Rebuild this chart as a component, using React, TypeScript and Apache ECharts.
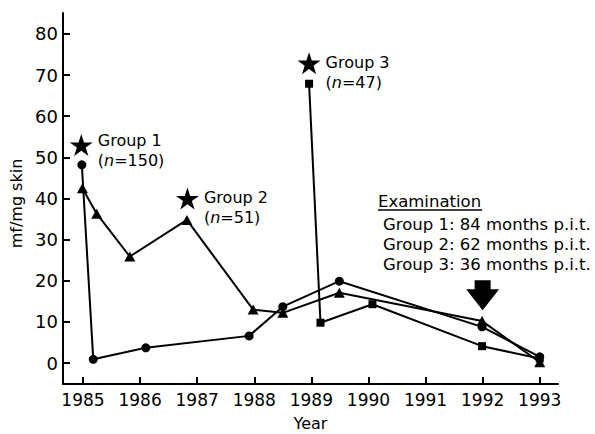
import React, { useEffect, useRef } from "react";
import * as echarts from "echarts";

const yearTicks = [1985, 1986, 1987, 1988, 1989, 1990, 1991, 1992, 1993];
const valueTicks = [0, 10, 20, 30, 40, 50, 60, 70, 80];

const g1Years = [1984.98, 1985.18, 1986.1, 1987.91, 1988.5, 1989.49, 1991.99, 1993.0];
const g1Values = [48.2, 0.9, 3.7, 6.6, 13.7, 19.9, 8.8, 1.5];

const g2Years = [1984.99, 1985.24, 1985.82, 1986.82, 1987.98, 1988.5, 1989.49, 1991.99, 1993.0];
const g2Values = [42.5, 36.3, 25.9, 34.8, 13.0, 12.2, 17.1, 10.2, 0.2];

const g3Years = [1988.96, 1989.16, 1990.07, 1991.99, 1993.0];
const g3Values = [67.9, 9.8, 14.3, 4.1, 1.1];

const starNames = ["Group 1", "Group 2", "Group 3"];
const starCounts = ["150", "51", "47"];
const starYears = [1984.97, 1986.83, 1988.96];
const starValues = [53, 40, 72.9];

const examTitle = "Examination";
const examLines = [
  "Group 1: 84 months p.i.t.",
  "Group 2: 62 months p.i.t.",
  "Group 3: 36 months p.i.t.",
];
const arrowYear = 1992;
const arrowValue = 16.5;

const FONT = "DejaVu Sans";
const STAR =
  "path://M50,0 L61.2,34.5 L97.6,34.5 L68.2,55.9 L79.4,90.5 L50,69.1 L20.6,90.5 L31.8,55.9 L2.4,34.5 L38.8,34.5 Z";
const ARROW = "path://M8.5,0 L24.5,0 L24.5,9 L33,9 L16.5,30 L0,9 L8.5,9 Z";

const zip = (xs: number[], ys: number[]) => xs.map((x, i) => [x, ys[i]]);

export default function App() {
  const ref = useRef<HTMLDivElement>(null);
  useEffect(() => {
    if (!ref.current) return;
    const chart = echarts.init(ref.current, null, { renderer: "svg" });
    const lineSeries = (data: number[][], symbol: string, size: number | number[]) => ({
      type: "line",
      data,
      symbol,
      symbolSize: size,
      lineStyle: { color: "#000", width: 2 },
      itemStyle: { color: "#000", opacity: 1 },
      z: 3,
    });
    chart.setOption({
      animation: false,
      backgroundColor: "#fff",
      textStyle: { fontFamily: FONT, color: "#000" },
      grid: { left: 63, right: 37, top: 13, bottom: 50, containLabel: false, outerBoundsMode: "none" },
      xAxis: {
        type: "value",
        min: 1984.65,
        max: 1993.32,
        name: "Year",
        nameLocation: "middle",
        nameGap: 31,
        nameTextStyle: { fontSize: 16, color: "#000", fontFamily: FONT },
        axisLine: { onZero: false, lineStyle: { color: "#000", width: 2 } },
        axisTick: { show: true, inside: true, length: 7, customValues: yearTicks, lineStyle: { color: "#000", width: 2 } },
        axisLabel: { customValues: yearTicks, fontSize: 17, color: "#000", margin: 7, fontFamily: FONT, formatter: (v: number) => String(Math.round(v)) },
        splitLine: { show: false },
      },
      yAxis: {
        type: "value",
        min: -5.1,
        max: 85.1,
        name: "mf/mg skin",
        nameLocation: "middle",
        nameGap: 28,
        nameRotate: 90,
        nameTextStyle: { fontSize: 16, color: "#000", fontFamily: FONT, padding: [0, 10, 0, 0] },
        axisLine: { show: true, onZero: false, lineStyle: { color: "#000", width: 2 } },
        axisTick: { show: true, inside: true, length: 7, customValues: valueTicks, lineStyle: { color: "#000", width: 2 } },
        axisLabel: { customValues: valueTicks, fontSize: 18, color: "#000", margin: 5, fontFamily: FONT, formatter: (v: number) => String(Math.round(v)) },
        splitLine: { show: false },
      },
      series: [
        lineSeries(zip(g1Years, g1Values), "circle", 9),
        lineSeries(zip(g2Years, g2Values), "triangle", [11, 10]),
        lineSeries(zip(g3Years, g3Values), "rect", 8),
        {
          type: "scatter",
          symbol: STAR,
          symbolSize: [23, 22],
          itemStyle: { color: "#000", opacity: 1 },
          z: 4,
          data: starYears.map((x, i) => ({
            value: [x, starValues[i]],
            label: {
              show: true,
              position: "right",
              distance: 5,
              color: "#000",
              offset: [0, i === 0 ? 5 : 9],
              formatter: `{t|${starNames[i]}}\n{t|(}{i|n}{t|=${starCounts[i]})}`,
              rich: {
                t: { fontSize: 16, lineHeight: 20, color: "#000", fontFamily: FONT },
                i: { fontSize: 16, lineHeight: 20, color: "#000", fontStyle: "italic", fontFamily: FONT },
              },
            },
          })),
        },
        {
          type: "scatter",
          symbol: ARROW,
          symbolSize: [33, 30],
          itemStyle: { color: "#000", opacity: 1 },
          z: 4,
          data: [[arrowYear, arrowValue]],
        },
      ],
      graphic: [
        {
          type: "text",
          left: 378,
          top: 193,
          style: { text: examTitle, fontSize: 16.5, fill: "#000", fontFamily: FONT },
        },
        {
          type: "line",
          shape: { x1: 378, y1: 210, x2: 482, y2: 210 },
          style: { stroke: "#000", lineWidth: 1.5 },
        },
        ...examLines.map((t, i) => ({
          type: "text",
          left: 383,
          top: 216 + i * 20,
          style: { text: t, fontSize: 16.5, fill: "#000", fontFamily: FONT },
        })),
      ],
    });
    return () => chart.dispose();
  }, []);
  return (
    <div
      ref={ref}
      style={{ position: "absolute", left: 0, top: 0, width: 595, height: 434 }}
    />
  );
}
